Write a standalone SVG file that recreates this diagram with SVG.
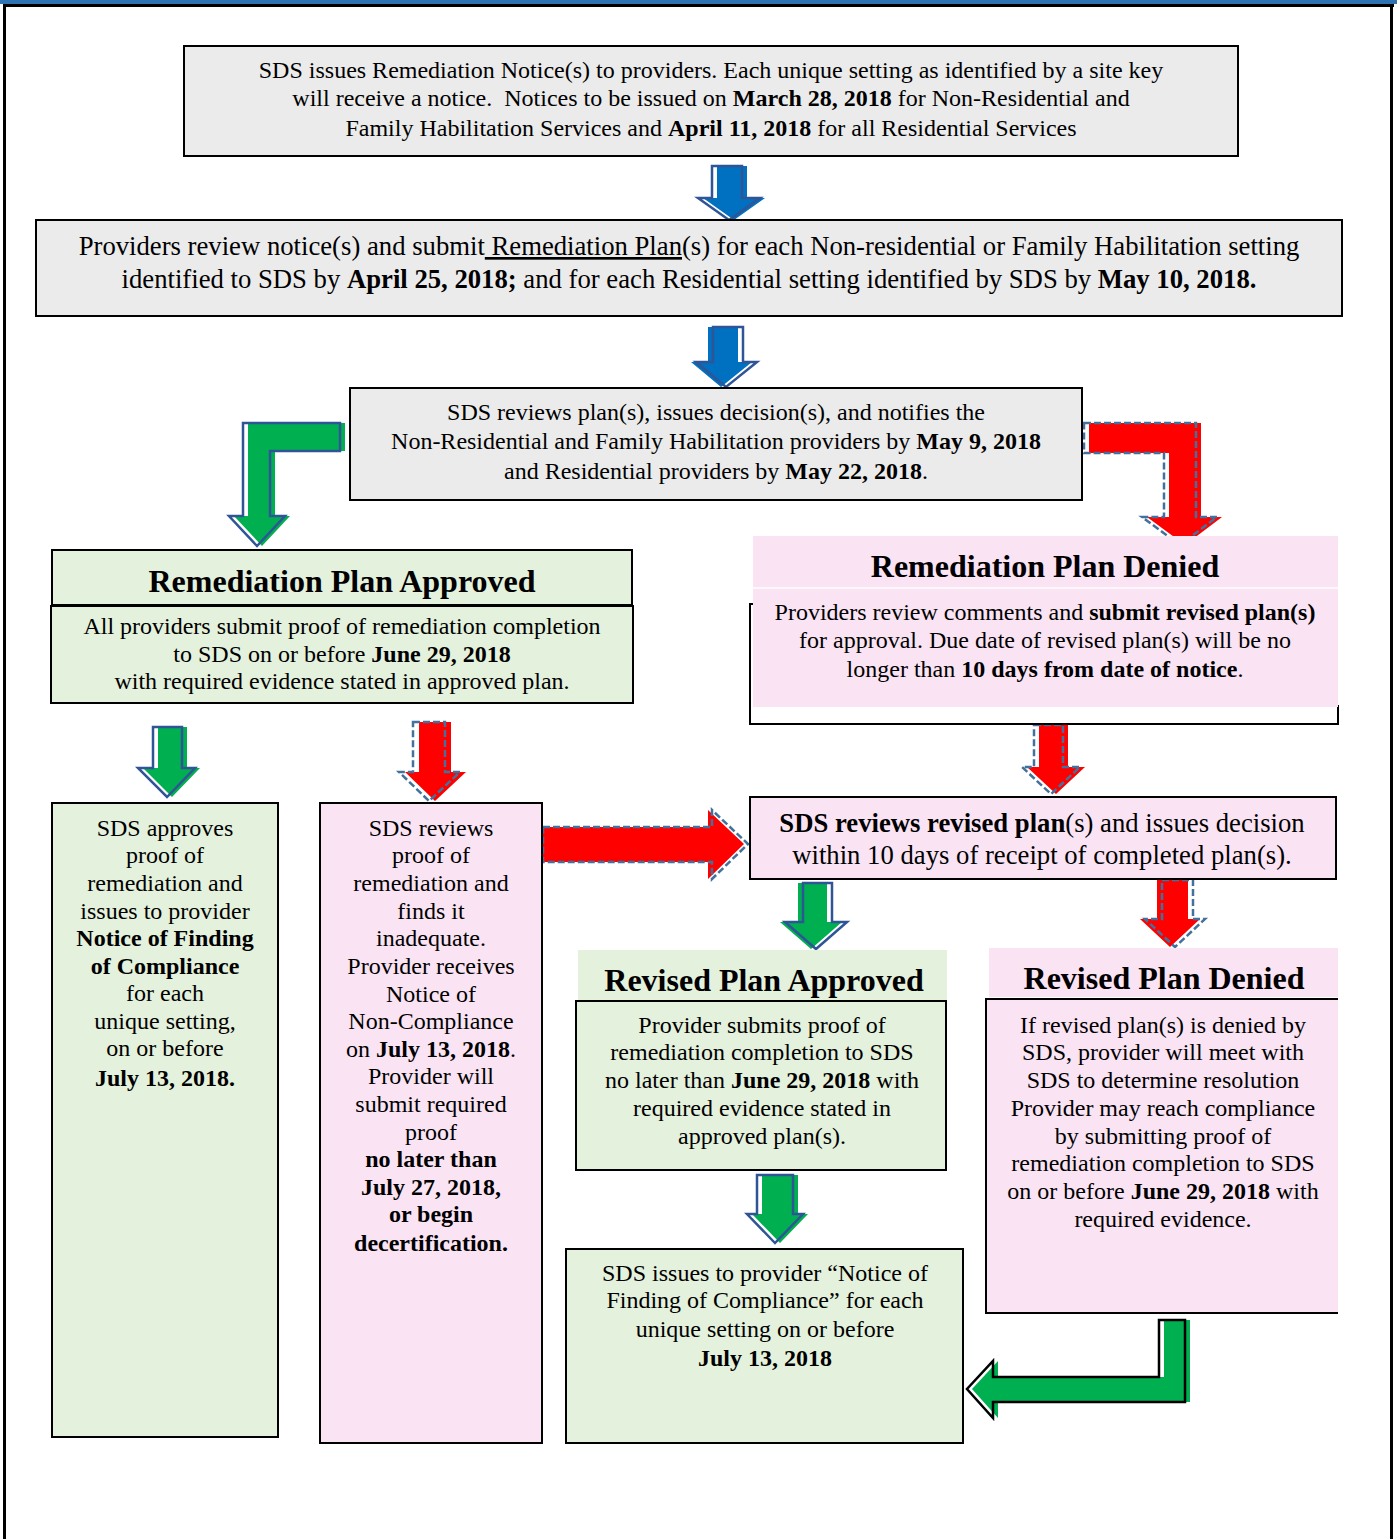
<svg xmlns="http://www.w3.org/2000/svg" width="1397" height="1539" viewBox="0 0 1397 1539">
<style>
text{font-family:"Liberation Serif","Times New Roman",serif;fill:#000;text-anchor:middle}
.t22{font-size:24px}
.t25{font-size:26.7px}
.h{font-size:32px;font-weight:bold}
.b{font-weight:bold}
.box{stroke:#000;stroke-width:2}
.gray{fill:#EBEBEB}
.green{fill:#E4F1DC}
.pink{fill:#FAE4F4}
.fg{fill:#00B050}
.fr{fill:#FF0000}
.fb{fill:#0070C0}
.os{fill:none;stroke:#2F5597;stroke-width:2.5;stroke-linejoin:miter}
.od{fill:none;stroke:#41719C;stroke-width:2.5;stroke-dasharray:7 3}
.ok{fill:none;stroke:#000;stroke-width:2.5}
</style>
<rect x="0" y="0" width="1397" height="1539" fill="#fff"/>
<g id="page">
<rect x="0" y="0" width="1397" height="4" fill="#2E74B5"/>
<rect x="3" y="4" width="1391" height="3" fill="#000"/>
<rect x="3" y="4" width="3" height="1535" fill="#000"/>
<rect x="1390" y="4" width="3" height="1535" fill="#000"/>
</g>
<g id="connectors">
<g id="a1">
<polygon class="fb" transform="translate(5,0)" points="712,166 742,166 742,198 760,198 729,220 698,198 712,198"/>
<polygon class="os" points="712,166 742,166 742,198 760,198 729,220 698,198 712,198"/>
</g>
<g id="a2">
<polygon class="fb" transform="translate(-5,0)" points="713,327 743,327 743,362 757,362 726,387 696,362 713,362"/>
<polygon class="os" points="713,327 743,327 743,362 757,362 726,387 696,362 713,362"/>
</g>
<g id="a3">
<polygon class="fg" transform="translate(5,0)" points="340,423 243,423 243,516 229,516 257,546 285,516 270,516 270,451 340,451"/>
<polygon class="os" points="340,423 243,423 243,516 229,516 257,546 285,516 270,516 270,451 340,451"/>
</g>
<g id="a4">
<polygon class="fr" transform="translate(5,0)" points="1084,423 1196,423 1196,517 1217,517 1180,545 1142,517 1164,517 1164,453 1084,453"/>
<polygon class="od" points="1084,423 1196,423 1196,517 1217,517 1180,545 1142,517 1164,517 1164,453 1084,453"/>
</g>
<g id="a5">
<polygon class="fg" transform="translate(5,0)" points="153,727 182,727 182,768 195,768 167,797 138,768 153,768"/>
<polygon class="os" points="153,727 182,727 182,768 195,768 167,797 138,768 153,768"/>
</g>
<g id="a6">
<polygon class="fr" transform="translate(6,0)" points="413,722 445,722 445,772 460,772 429,801 399,772 413,772"/>
<polygon class="od" points="413,722 445,722 445,772 460,772 429,801 399,772 413,772"/>
</g>
<g id="a7">
<polygon class="fr" transform="translate(-4,0)" points="547,827 712,827 712,810 748,844 712,879 712,862 547,862"/>
<polygon class="od" points="543,827 712,827 712,810 748,844 712,879 712,862 543,862"/>
</g>
<g id="a8">
<polygon class="fr" transform="translate(5,0)" points="1034,725 1063,725 1063,767 1080,767 1051,794 1022,767 1034,767"/>
<polygon class="od" points="1034,725 1063,725 1063,767 1080,767 1051,794 1022,767 1034,767"/>
</g>
<g id="a9">
<polygon class="fg" transform="translate(-5,0)" points="803,883 832,883 832,922 847,922 816,949 785,922 803,922"/>
<polygon class="os" points="803,883 832,883 832,922 847,922 816,949 785,922 803,922"/>
</g>
<g id="a10">
<polygon class="fr" transform="translate(-5,0)" points="1162,880 1193,880 1193,919 1205,919 1175,947 1145,919 1162,919"/>
<polygon class="od" points="1162,880 1193,880 1193,919 1205,919 1175,947 1145,919 1162,919"/>
</g>
<g id="a11">
<polygon class="fg" transform="translate(5,0)" points="757,1175 793,1175 793,1214 803,1214 775,1243 747,1214 757,1214"/>
<polygon class="os" points="757,1175 793,1175 793,1214 803,1214 775,1243 747,1214 757,1214"/>
</g>
<g id="a12">
<polygon class="fg" transform="translate(5,0)" points="1185,1320 1185,1402 993,1402 993,1418 967,1389 993,1361 993,1377 1159,1377 1159,1320"/>
<polygon class="ok" points="1185,1320 1185,1402 993,1402 993,1418 967,1389 993,1361 993,1377 1159,1377 1159,1320"/>
</g>
</g>
<g id="n1">
<rect class="box gray" x="184" y="46" width="1054" height="110"/>
<text class="t22" x="711" y="78">SDS issues Remediation Notice(s) to providers. Each unique setting as identified by a site key</text>
<text class="t22" x="711" y="106" xml:space="preserve">will receive a notice.  Notices to be issued on <tspan class="b">March 28, 2018</tspan> for Non-Residential and</text>
<text class="t22" x="711" y="136">Family Habilitation Services and <tspan class="b">April 11, 2018</tspan> for all Residential Services</text>
</g>
<g id="n2">
<rect class="box gray" x="36" y="220" width="1306" height="96"/>
<text class="t25" x="689" y="255" xml:space="preserve">Providers review notice(s) and submit<tspan text-decoration="underline"> Remediation Plan</tspan>(s) for each Non-residential or Family Habilitation setting</text>
<text class="t25" x="689" y="288">identified to SDS by <tspan class="b">April 25, 2018;</tspan> and for each Residential setting identified by SDS by <tspan class="b">May 10, 2018.</tspan></text>
</g>
<g id="n3">
<rect class="box gray" x="350" y="388" width="732" height="112"/>
<text class="t22" x="716" y="420">SDS reviews plan(s), issues decision(s), and notifies the</text>
<text class="t22" x="716" y="449">Non-Residential and Family Habilitation providers by <tspan class="b">May 9, 2018</tspan></text>
<text class="t22" x="716" y="479">and Residential providers by <tspan class="b">May 22, 2018</tspan>.</text>
</g>
<g id="n4">
<rect class="box green" x="52" y="550" width="580" height="55"/>
<rect class="box green" x="51" y="606" width="582" height="97"/>
<text class="h" x="342" y="592">Remediation Plan Approved</text>
<text class="t22" x="342" y="634">All providers submit proof of remediation completion</text>
<text class="t22" x="342" y="662">to SDS on or before <tspan class="b">June 29, 2018</tspan></text>
<text class="t22" x="342" y="689">with required evidence stated in approved plan.</text>
</g>
<g id="n5">
<path d="M754,604 H750 V724 H1338 V705" fill="none" stroke="#000" stroke-width="2"/>
<rect class="pink" x="753" y="536" width="585" height="171"/>
<line x1="753" y1="588" x2="1338" y2="588" stroke="#fff" stroke-width="1.5"/>
<text class="h" x="1045" y="577">Remediation Plan Denied</text>
<text class="t22" x="1045" y="620">Providers review comments and <tspan class="b">submit revised plan(s)</tspan></text>
<text class="t22" x="1045" y="648">for approval. Due date of revised plan(s) will be no</text>
<text class="t22" x="1045" y="677">longer than <tspan class="b">10 days from date of notice</tspan>.</text>
</g>
<g id="n6">
<rect class="box green" x="52" y="803" width="226" height="634"/>
<text class="t22" x="165" y="836">SDS approves</text>
<text class="t22" x="165" y="863">proof of</text>
<text class="t22" x="165" y="891">remediation and</text>
<text class="t22" x="165" y="919">issues to provider</text>
<text class="t22 b" x="165" y="946">Notice of Finding</text>
<text class="t22 b" x="165" y="974">of Compliance</text>
<text class="t22" x="165" y="1001">for each</text>
<text class="t22" x="165" y="1029">unique setting,</text>
<text class="t22" x="165" y="1056">on or before</text>
<text class="t22 b" x="165" y="1086">July 13, 2018.</text>
</g>
<g id="n7">
<rect class="box pink" x="320" y="803" width="222" height="640"/>
<text class="t22" x="431" y="836">SDS reviews</text>
<text class="t22" x="431" y="863">proof of</text>
<text class="t22" x="431" y="891">remediation and</text>
<text class="t22" x="431" y="919">finds it</text>
<text class="t22" x="431" y="946">inadequate.</text>
<text class="t22" x="431" y="974">Provider receives</text>
<text class="t22" x="431" y="1002">Notice of</text>
<text class="t22" x="431" y="1029">Non-Compliance</text>
<text class="t22" x="431" y="1057">on <tspan class="b">July 13, 2018</tspan>.</text>
<text class="t22" x="431" y="1084">Provider will</text>
<text class="t22" x="431" y="1112">submit required</text>
<text class="t22" x="431" y="1140">proof</text>
<text class="t22 b" x="431" y="1167">no later than</text>
<text class="t22 b" x="431" y="1195">July 27, 2018,</text>
<text class="t22 b" x="431" y="1222">or begin</text>
<text class="t22 b" x="431" y="1251">decertification.</text>
</g>
<g id="n8">
<rect class="box pink" x="750" y="797" width="586" height="82"/>
<text class="t25" x="1042" y="832"><tspan class="b">SDS reviews revised plan</tspan>(s) and issues decision</text>
<text class="t25" x="1042" y="864">within 10 days of receipt of completed plan(s).</text>
</g>
<g id="n9">
<rect class="green" x="578" y="950" width="369" height="50"/>
<rect class="box green" x="576" y="1001" width="370" height="169"/>
<text class="h" x="764" y="991">Revised Plan Approved</text>
<text class="t22" x="762" y="1033">Provider submits proof of</text>
<text class="t22" x="762" y="1060">remediation completion to SDS</text>
<text class="t22" x="762" y="1088">no later than <tspan class="b">June 29, 2018</tspan> with</text>
<text class="t22" x="762" y="1116">required evidence stated in</text>
<text class="t22" x="762" y="1144">approved plan(s).</text>
</g>
<g id="n10">
<rect class="box green" x="566" y="1249" width="397" height="194"/>
<text class="t22" x="765" y="1281">SDS issues to provider “Notice of</text>
<text class="t22" x="765" y="1308">Finding of Compliance” for each</text>
<text class="t22" x="765" y="1337">unique setting on or before</text>
<text class="t22 b" x="765" y="1366">July 13, 2018</text>
</g>
<g id="n11">
<rect class="pink" x="989" y="948" width="349" height="49"/>
<rect class="pink" x="986" y="999" width="352" height="314"/>
<path d="M1338,999 H986 V1313 H1338" fill="none" stroke="#000" stroke-width="2"/>
<text class="h" x="1164" y="989">Revised Plan Denied</text>
<text class="t22" x="1163" y="1033">If revised plan(s) is denied by</text>
<text class="t22" x="1163" y="1060">SDS, provider will meet with</text>
<text class="t22" x="1163" y="1088">SDS to determine resolution</text>
<text class="t22" x="1163" y="1116">Provider may reach compliance</text>
<text class="t22" x="1163" y="1144">by submitting proof of</text>
<text class="t22" x="1163" y="1171">remediation completion to SDS</text>
<text class="t22" x="1163" y="1199">on or before <tspan class="b">June 29, 2018</tspan> with</text>
<text class="t22" x="1163" y="1227">required evidence.</text>
</g>
</svg>
